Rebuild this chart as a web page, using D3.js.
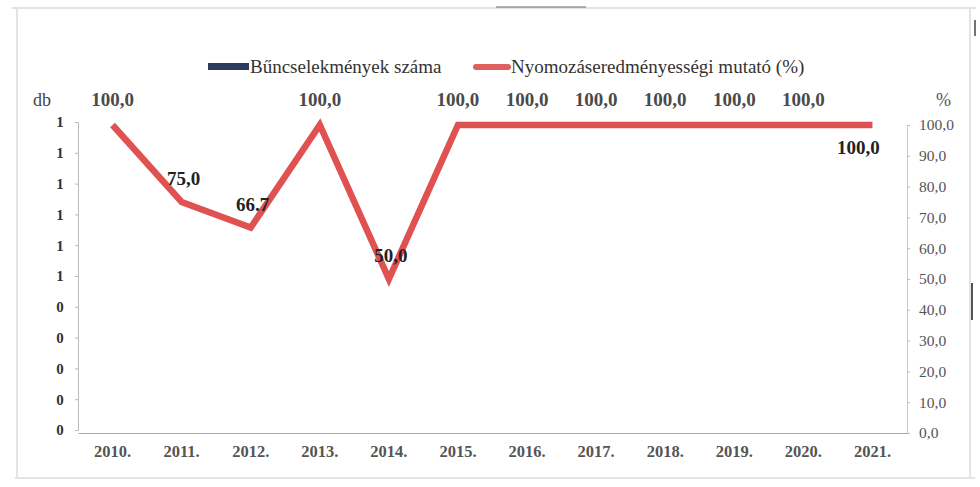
<!DOCTYPE html>
<html><head><meta charset="utf-8">
<script src="https://cdn.jsdelivr.net/npm/d3@7"></script>
<style>
html,body{margin:0;padding:0;background:#fff;}
svg{display:block;}
</style></head>
<body>
<svg id="chart" width="980" height="487"></svg>
<script>
const years = ["2010.","2011.","2012.","2013.","2014.","2015.","2016.","2017.","2018.","2019.","2020.","2021."];
const crimeCounts = [0,0,0,0,0,0,0,0,0,0,0,0];
const clearanceRate = [100,75,66.7,100,50,100,100,100,100,100,100,100];
const dataLabels = ["100,0","75,0","66.7","100,0","50,0","100,0","100,0","100,0","100,0","100,0","100,0","100,0"];
const labelSide = ["top","above","above","top","above","top","top","top","top","top","top","below"];
const leftTicks = [0,0.1,0.2,0.3,0.4,0.5,0.6,0.7,0.8,0.9,1];
const rightTicks = [0,10,20,30,40,50,60,70,80,90,100];
const seriesNames = ["Bűncselekmények száma","Nyomozáseredményességi mutató (%)"];

const FONT = "Liberation Serif";
const svg = d3.select("#chart");
const L = 78, R = 907, T = 125, B = 433;

// faint page frame (scan)
const frame = svg.append("g").attr("fill","none").attr("stroke","#e4e4e4").attr("stroke-width",2);
frame.append("line").attr("x1",12).attr("x2",976).attr("y1",8).attr("y2",8);
frame.append("line").attr("x1",17).attr("x2",17).attr("y1",8).attr("y2",478);
frame.append("line").attr("x1",15).attr("x2",975).attr("y1",478).attr("y2",478);
frame.append("line").attr("x1",970).attr("x2",970).attr("y1",8).attr("y2",478);
svg.append("line").attr("x1",496).attr("x2",586).attr("y1",7).attr("y2",7).attr("stroke","#666").attr("stroke-width",1);
svg.append("line").attr("x1",975).attr("x2",975).attr("y1",20).attr("y2",36).attr("stroke","#444").attr("stroke-width",1.5);
svg.append("line").attr("x1",972).attr("x2",972).attr("y1",283).attr("y2",320).attr("stroke","#555").attr("stroke-width",2);

const x = d3.scaleBand().domain(years).range([L,R]).padding(0);
const yL = d3.scaleLinear().domain([0,1]).range([B-3,T-3]);
const yR = d3.scaleLinear().domain([0,100]).range([B,T]);

// left axis
const gL = svg.append("g").attr("transform",`translate(${L},0)`)
  .call(d3.axisLeft(yL).tickValues(leftTicks).tickFormat(d3.format(".0f")).tickSize(3).tickPadding(12));
gL.attr("font-family",FONT);
gL.select(".domain").attr("stroke","#bbb");
gL.selectAll(".tick line").attr("stroke","#bbb");
gL.selectAll(".tick text").attr("font-family",FONT).attr("font-size",15).attr("font-weight","bold").attr("fill","#333")
  .attr("text-anchor","middle").attr("dx",-3);

// right axis
const gR = svg.append("g").attr("transform",`translate(${R},0)`)
  .call(d3.axisRight(yR).tickValues(rightTicks).tickFormat(d => d3.format(".1f")(d).replace(".",",")).tickSize(3).tickPadding(9));
gR.attr("font-family",FONT);
gR.select(".domain").attr("stroke","#ccc");
gR.selectAll(".tick line").attr("stroke","#bbb");
gR.selectAll(".tick text").attr("font-family",FONT).attr("font-size",15.5).attr("fill","#555");

// bottom axis
const gB = svg.append("g").attr("transform",`translate(0,${B})`)
  .call(d3.axisBottom(x).tickSize(0).tickPadding(12));
gB.attr("font-family",FONT);
gB.select(".domain").attr("stroke","#aaa");
gB.selectAll(".tick text").attr("font-family",FONT).attr("font-size",16.5).attr("font-weight","bold").attr("fill","#555");

// bars (zero values)
svg.append("g").selectAll("rect").data(crimeCounts).join("rect")
  .attr("x",(d,i)=>x(years[i])+x.bandwidth()*0.25).attr("width",x.bandwidth()*0.5)
  .attr("y",d=>yL(d)).attr("height",d=>yL(0)-yL(d)).attr("fill","#2c3b5e");

// line
const line = d3.line().x((d,i)=>x(years[i])+x.bandwidth()/2).y(d=>yR(d));
svg.append("path").datum(clearanceRate).attr("d",line).attr("fill","none")
  .attr("stroke","#e05252").attr("stroke-width",6.5).attr("stroke-linejoin","miter");

// data labels
svg.append("g").selectAll("text").data(clearanceRate).join("text")
  .attr("font-family",FONT)
  .attr("x",(d,i)=>x(years[i])+x.bandwidth()/2 + (labelSide[i]==="below"?-14:(labelSide[i]==="above"?2:0)))
  .attr("y",(d,i)=>labelSide[i]==="top"?yR(d)-19:(labelSide[i]==="below"?yR(d)+29:yR(d)-17))
  .attr("text-anchor","middle").attr("font-size",19).attr("font-weight","bold")
  .attr("fill",(d,i)=>labelSide[i]==="top"?"#4a4a4a":"#222")
  .text((d,i)=>dataLabels[i]);

// unit labels
svg.append("text").attr("font-family",FONT).attr("x",33).attr("y",106).attr("font-size",18).attr("fill","#444").text("db");
svg.append("text").attr("font-family",FONT).attr("x",936).attr("y",106).attr("font-size",18).attr("fill","#555").text("%");

// legend
const lg = svg.append("g");
lg.append("rect").attr("x",208).attr("y",63).attr("width",41).attr("height",7).attr("fill","#2c3b5e");
lg.append("text").attr("font-family",FONT).attr("x",250).attr("y",73).attr("font-size",19).attr("fill","#333").text(seriesNames[0]);
lg.append("line").attr("x1",476).attr("x2",508).attr("y1",67).attr("y2",67).attr("stroke","#e06060").attr("stroke-width",6).attr("stroke-linecap","round");
lg.append("text").attr("font-family",FONT).attr("x",511).attr("y",73).attr("font-size",19).attr("fill","#333").text(seriesNames[1]);
</script>
</body></html>
